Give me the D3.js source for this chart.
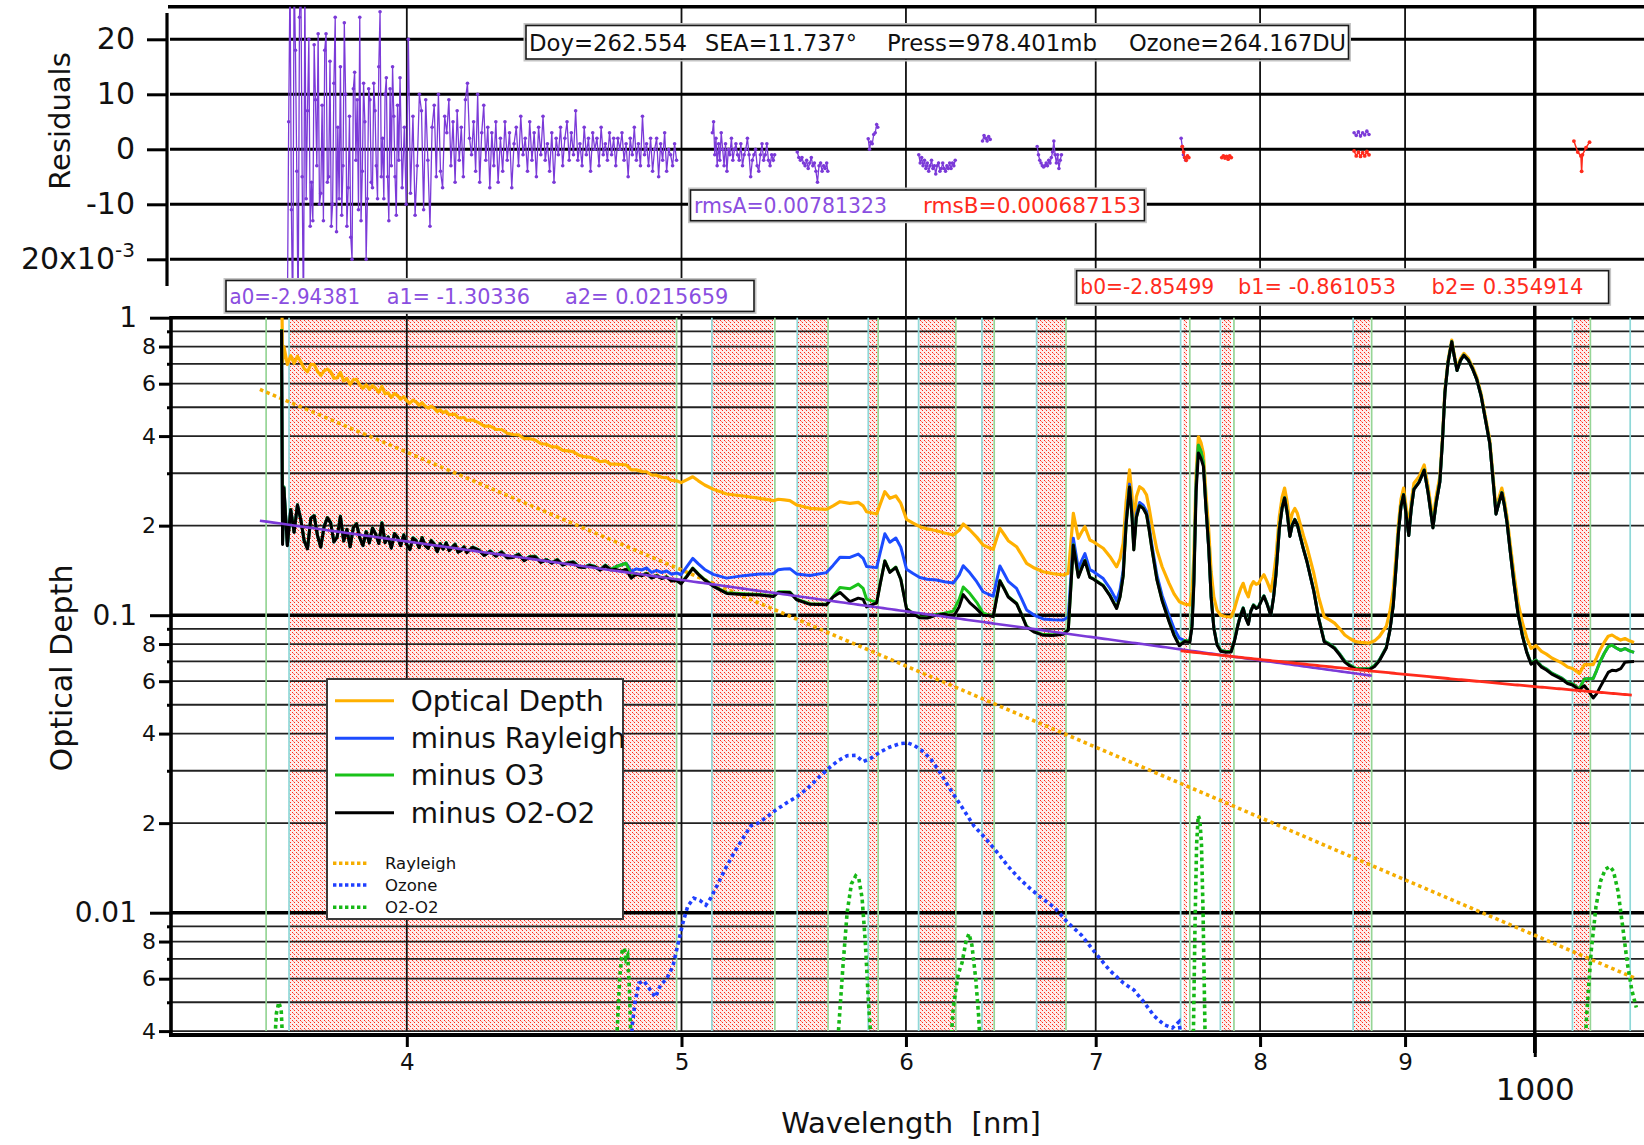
<!DOCTYPE html>
<html>
<head>
<meta charset="utf-8">
<script src="https://cdn.jsdelivr.net/npm/d3@7"></script>
<style>
  body { margin: 0; background: #fff; }
  svg { display: block; }
  text { font-family: "DejaVu Sans", "Noto Sans", sans-serif; }
</style>
</head>
<body>
<svg id="chart" width="1644" height="1145"></svg>
<script>
// ---------------- measurement metadata ----------------
const doy = "262.554", sea = "11.737", press = "978.401", ozoneDU = "264.167";
const rmsA = "0.00781323", rmsB = "0.000687153";
const coefA = [-2.94381, -1.30336, 0.0215659];   // purple fit, ln(tau) vs ln(lambda[um])
const coefB = [-2.85499, -0.861053, 0.354914];   // red fit
const coefAText = ["-2.94381", " -1.30336", " 0.0215659"];
const coefBText = ["-2.85499", " -0.861053", " 0.354914"];
const fitARange = [355, 876];
const fitBRange = [750, 1082];

// ---------------- axis ticks ----------------
const yMajorTicks = [1, 0.1, 0.01];
const yMajorLabels = ["1", "0.1", "0.01"];
const yLabeledTicks = [0.8, 0.6, 0.4, 0.2, 0.08, 0.06, 0.04, 0.02, 0.008, 0.006, 0.004];
const yLabeledText = ["8", "6", "4", "2", "8", "6", "4", "2", "8", "6", "4"];
const yMinorTicks = [0.9, 0.7, 0.5, 0.3, 0.09, 0.07, 0.05, 0.03, 0.009, 0.007, 0.005];
const xMinorTicks = [400, 500, 600, 700, 800, 900];
const xMinorLabels = ["4", "5", "6", "7", "8", "9"];
const xMajorTicks = [1000];
const xMajorLabels = ["1000"];
const residTicks = [20, 10, 0, -10, -20];
const residLabels = ["20", "10", "0", "-10", "20x10"];

// ---------------- filter channels ----------------
const channelStart = [363.5, 512.5, 549.3, 581.9, 606.2, 638.2, 667.2, 750.0, 774.6, 862.8, 1031.1, 1080.6];
const channelEnd = [356.8, 498.0, 539.4, 563.2, 586.6, 624.8, 644.6, 683.3, 755.6, 783.2, 875.9, 1046.2];
const fitWindows = [[363.6, 497.6], [512.6, 538.8], [549.4, 562.8], [582.0, 586.2], [606.3, 624.3],
  [638.3, 644.2], [667.3, 682.8], [751.4, 754.0], [775.4, 781.2], [863.4, 874.6], [1032.0, 1044.8]];

// ---------------- measured optical depth ----------------
const opticalDepth = [
  [361.3, 1.45], [361.6, 0.709], [362.0, 0.800], [363, 0.696], [364, 0.745], [365, 0.703], [366, 0.742],
  [367, 0.711], [368, 0.674], [369, 0.658], [370, 0.697], [371, 0.696], [372, 0.660], [373, 0.639],
  [374, 0.663], [375, 0.672], [376, 0.659], [377, 0.626], [378, 0.628], [379, 0.655], [380, 0.613],
  [381, 0.625], [382, 0.596], [383, 0.619], [384, 0.620], [385, 0.595], [386, 0.580], [387, 0.595],
  [388, 0.575], [389, 0.592], [390, 0.579], [391, 0.562], [392, 0.588], [393, 0.555], [394, 0.559],
  [395, 0.540], [396, 0.556], [397, 0.547], [398, 0.532], [399, 0.543], [400, 0.526], [401, 0.516],
  [402, 0.528], [403, 0.521], [404, 0.508], [405, 0.518], [406, 0.504], [407, 0.497], [408, 0.504],
  [409, 0.496], [410, 0.483], [411, 0.490], [412, 0.480], [413, 0.485], [414, 0.472], [415, 0.473],
  [416, 0.474], [417, 0.461], [418, 0.460], [419, 0.462], [420, 0.452], [422, 0.453], [424, 0.444],
  [426, 0.432], [428, 0.432], [430, 0.421], [432, 0.421], [434, 0.409], [436, 0.405], [438, 0.404],
  [440, 0.392], [442, 0.392], [444, 0.388], [446, 0.377], [448, 0.376], [450, 0.368], [452, 0.368],
  [454, 0.358], [456, 0.357], [458, 0.354], [460, 0.345], [462, 0.341], [464, 0.340], [466, 0.335],
  [468, 0.328], [470, 0.330], [472, 0.322], [474, 0.322], [476, 0.321], [478, 0.320], [480, 0.308],
  [482, 0.308], [484, 0.304], [486, 0.3035], [488, 0.296], [490, 0.2956], [492, 0.2908], [494, 0.290],
  [496, 0.284], [498, 0.283], [499.8, 0.279], [502.1, 0.285], [504.6, 0.292], [506.9, 0.283],
  [509.5, 0.274], [513.1, 0.265], [518.7, 0.2555], [525.7, 0.2516], [532.9, 0.2471], [538.7, 0.2426],
  [540.9, 0.2453], [543.5, 0.2440], [546.0, 0.2426], [549.0, 0.2347], [555.0, 0.2287], [562.5, 0.2269],
  [565.5, 0.2330], [568.7, 0.2407], [573.3, 0.2377], [577.2, 0.2395], [579.5, 0.2330], [581.1, 0.2228],
  [585.9, 0.2189], [587.5, 0.2350], [589.8, 0.2602], [592.2, 0.2471], [595.1, 0.2516], [597.5, 0.2380],
  [600.3, 0.2100], [603.5, 0.2040], [606.8, 0.1984], [610.5, 0.1950], [615.1, 0.1923], [619.0, 0.1890],
  [623.5, 0.1860], [626.5, 0.1930], [628.6, 0.2025], [632.0, 0.1934], [635.5, 0.1830], [638.8, 0.1722],
  [641.5, 0.1690], [644.1, 0.1665], [647.6, 0.1959], [650.0, 0.1860], [652.0, 0.1780], [656.4, 0.1699],
  [659.0, 0.1600], [661.8, 0.1494], [666.0, 0.1440], [670.8, 0.1400], [676.0, 0.1380], [681.8, 0.1365],
  [684.6, 0.1383], [687.4, 0.2201], [690.2, 0.1813], [692.0, 0.1900], [693.9, 0.1984], [696.7, 0.1790],
  [699.0, 0.1760], [701.4, 0.1722], [704.3, 0.1679], [708.2, 0.1573], [712.0, 0.1455], [714.0, 0.1550],
  [715.8, 0.1745], [717.5, 0.2400], [719.5, 0.3080], [721.0, 0.2500], [722.0, 0.2034], [723.5, 0.2500],
  [725.4, 0.2703], [727.5, 0.2650], [729.5, 0.2539], [731.0, 0.2300], [732.6, 0.2034], [735.7, 0.1657],
  [738.8, 0.1455], [743.0, 0.1280], [746.0, 0.1180], [749.2, 0.1110], [752.5, 0.1090], [755.6, 0.1082],
  [757.0, 0.1200], [758.1, 0.1573], [759.5, 0.3000], [760.9, 0.3980], [762.5, 0.3800], [764.0, 0.3501],
  [765.5, 0.2600], [767.3, 0.1934], [768.8, 0.1400], [770.5, 0.1153], [772.5, 0.1040], [774.8, 0.1000],
  [778.0, 0.0990], [781.4, 0.0987], [783.5, 0.1050], [785.7, 0.1153], [787.5, 0.1230], [789.1, 0.1280],
  [790.8, 0.1200], [792.4, 0.1153], [794.0, 0.1250], [795.7, 0.1297], [797.5, 0.1270], [799.1, 0.1280],
  [800.8, 0.1330], [802.5, 0.1368], [804.5, 0.1300], [807.0, 0.1204], [808.8, 0.1350], [810.4, 0.1573],
  [812.6, 0.2144], [814.5, 0.2500], [816.1, 0.2676], [817.8, 0.2400], [819.6, 0.2034], [821.2, 0.2200],
  [822.9, 0.2286], [824.6, 0.2200], [826.4, 0.2034], [828.7, 0.1850], [831.0, 0.1699], [835.7, 0.1381],
  [839.0, 0.1150], [842.8, 0.0987], [846.5, 0.0965], [849.9, 0.0941], [853.5, 0.0900], [857.0, 0.0858],
  [860.5, 0.0835], [864.3, 0.0816], [868.0, 0.0810], [874.1, 0.0806], [878.0, 0.0820], [881.4, 0.0848],
  [886.4, 0.0918], [889.0, 0.1030], [891.4, 0.1215], [893.5, 0.1600], [895.2, 0.2034], [897.0, 0.2450],
  [898.9, 0.2676], [900.8, 0.2300], [902.7, 0.1984], [904.5, 0.2400], [906.5, 0.2779], [910.3, 0.2924],
  [914.1, 0.3198], [917.0, 0.2700], [920.6, 0.2088], [923.0, 0.2500], [925.8, 0.2924], [927.8, 0.4000],
  [929.6, 0.5710], [932.0, 0.7200], [934.8, 0.8415], [936.5, 0.7600], [938.8, 0.6757], [941.5, 0.7300],
  [944.0, 0.7590], [947.5, 0.7300], [950.7, 0.6843], [954.0, 0.6300], [957.3, 0.5567], [960.5, 0.4700],
  [964.1, 0.3882], [966.5, 0.3000], [969.0, 0.2286], [971.5, 0.2500], [973.6, 0.2676], [975.5, 0.2450],
  [977.7, 0.2144], [980.5, 0.1700], [983.2, 0.1381], [986.5, 0.1100], [990.1, 0.0941], [993.5, 0.0840],
  [997.0, 0.0774], [1001.0, 0.0790], [1005.5, 0.0756], [1009.5, 0.0740], [1013.9, 0.0718], [1018.0, 0.0705],
  [1022.5, 0.0690], [1027.0, 0.0670], [1031.1, 0.0662], [1034.0, 0.0650], [1036.9, 0.0637], [1039.0, 0.0660],
  [1041.2, 0.0682], [1045.0, 0.0682], [1048.6, 0.0682], [1051.5, 0.0720], [1054.4, 0.0764], [1058.0, 0.0810],
  [1061.5, 0.0850], [1064.8, 0.0858], [1068.5, 0.0840], [1072.3, 0.0825], [1076.0, 0.0835], [1080.0, 0.0820],
  [1084.0, 0.0810]
];

// ---------------- model optical depths ----------------
const rayleigh = [[355, 0.574], [400, 0.353], [450, 0.218], [500, 0.142], [550, 0.0963], [600, 0.0675],
  [650, 0.0487], [700, 0.0360], [750, 0.0272], [800, 0.0209], [850, 0.0163], [900, 0.0129],
  [950, 0.01035], [1000, 0.0084], [1050, 0.00688], [1085, 0.00602]];

const ozone = [[479.6, 0.0032], [480.4, 0.0042], [481.5, 0.0050], [483, 0.0058], [485, 0.0059], [487.5, 0.0055],
  [489.5, 0.0052], [491.5, 0.0057], [494, 0.0060], [496.5, 0.0066], [498.5, 0.0078], [500.5, 0.0092],
  [502.5, 0.0105], [505, 0.0112], [507.5, 0.0110], [510, 0.0106], [512, 0.0112], [515, 0.0125],
  [518, 0.0140], [522, 0.0160], [526, 0.0180], [529, 0.0196], [532, 0.0200], [536, 0.0210],
  [540, 0.0222], [545, 0.0235], [549, 0.0245], [554, 0.0262], [559, 0.0285], [564, 0.0308],
  [568, 0.0325], [572, 0.0337], [576, 0.0338], [579.5, 0.0322], [583, 0.0330], [587, 0.0345],
  [592, 0.0360], [597, 0.0370], [601, 0.0372], [604, 0.0365], [608, 0.0350], [612, 0.0330],
  [617, 0.0295], [622, 0.0260], [628, 0.0226], [634, 0.0196], [640, 0.0178], [646, 0.0160],
  [652, 0.0143], [658, 0.0130], [664, 0.0120], [670, 0.0112], [677, 0.0104], [684, 0.0093],
  [692, 0.0084], [700, 0.0073], [708, 0.0064], [716, 0.0058], [722, 0.0055], [728, 0.0050],
  [734, 0.0045], [740, 0.0042], [745, 0.0041], [749, 0.0043], [750.8, 0.0036]];

const o2o2 = [[355, 0.0005], [357.5, 0.0005], [359.0, 0.0032], [359.8, 0.0046], [360.5, 0.0050],
  [361.2, 0.0047], [361.8, 0.0033], [363, 0.0005],
  [472, 0.0005], [474.2, 0.0035], [475.5, 0.0060], [476.5, 0.0075], [477.3, 0.0076], [477.9, 0.0070],
  [478.6, 0.0072], [479.3, 0.0055], [480.2, 0.0030], [482, 0.0005],
  [566, 0.0005], [568, 0.0040], [570, 0.0065], [572, 0.0100], [574, 0.0125], [576, 0.0133],
  [577.5, 0.0130], [579, 0.0112], [580.5, 0.0080], [582, 0.0050], [583.5, 0.0035], [585.5, 0.0005],
  [619, 0.0005], [621.5, 0.0030], [623.5, 0.0048], [626, 0.0062], [628, 0.0068], [630, 0.0080],
  [631.5, 0.0085], [633, 0.0078], [635, 0.0060], [636.5, 0.0045], [638.5, 0.0025], [641, 0.0005],
  [755, 0.0005], [757.5, 0.0030], [758.8, 0.0090], [759.8, 0.0170], [760.8, 0.0212], [761.8, 0.0205],
  [762.8, 0.0170], [763.8, 0.0100], [765, 0.0040], [766.5, 0.0005],
  [1036, 0.0005], [1040, 0.0025], [1043, 0.0045], [1047, 0.0075], [1051, 0.0105], [1055, 0.0128],
  [1059, 0.0140], [1063, 0.0143], [1066, 0.0138], [1070, 0.0118], [1074, 0.0090], [1078, 0.0068],
  [1082, 0.0055], [1086, 0.0048]];

// ---------------- fit residuals (x 1e-3) ----------------
const residA = [
  [363.0, -32], [363.4, 5], [363.8, 32], [364.2, -11], [364.6, -32], [365.0, 32], [365.4, 18], [365.8, -4],
  [366.2, -32], [366.6, 24], [367.0, 32], [367.4, -5], [367.8, -32], [368.2, 30], [368.6, -9], [369.0, 7],
  [369.4, 20], [369.8, -14], [370.2, -6], [370.6, -13], [371.0, 19], [371.4, 9], [371.8, -3], [372.2, 21],
  [372.6, -10], [373.0, -8], [373.4, 8], [373.8, -13], [374.2, 18], [374.6, 21], [375.0, -6], [375.4, -5],
  [375.8, 16], [376.2, -14], [376.6, -10], [377.0, 12], [377.4, 24], [377.8, -15], [378.2, 4], [378.6, -9],
  [379.0, 15], [379.4, -12], [379.8, -3], [380.2, 23], [380.6, 10], [381.0, -14], [381.4, -7], [381.8, 6],
  [382.2, -16], [382.6, -20], [383.0, 11], [383.4, 14], [383.8, -2], [384.2, 9], [384.6, -11], [385.0, 24],
  [385.4, -13], [385.8, -4], [386.2, 12], [386.6, 5], [387.0, -20], [387.4, -9], [387.8, 11], [388.2, 9],
  [388.6, -6], [389.0, -7], [389.4, 12], [389.8, 7], [390.2, -3], [390.6, -9], [391.0, 15], [391.4, 25],
  [391.8, -5], [392.2, 2], [392.6, -9], [393.0, 10], [393.4, 13], [393.8, -5], [394.2, -13], [394.6, 11],
  [395.0, -3], [395.4, 15], [395.8, 6], [396.2, -5], [396.6, -12], [397.0, 8], [397.4, -2], [397.8, 13],
  [398.5, -7], [399.2, 4], [399.8, -10], [400.5, 20], [401.2, -8], [402.0, 6], [402.7, -12], [403.4, -3],
  [404.1, 10], [404.8, 7], [405.5, -11], [406.2, 9], [406.9, -2], [407.6, -14], [408.3, 4], [409.0, 8],
  [409.7, -5], [410.4, 10], [411.1, -4], [411.8, -7], [412.5, 6], [413.2, 3], [413.9, 9], [414.6, -3],
  [415.3, 5], [416.0, -6], [416.7, 7], [417.4, -2], [418.1, 4], [418.8, -5], [419.5, 9], [420.2, 12],
  [420.9, 2], [421.6, -1], [422.3, 5], [423.0, -4], [423.7, 10], [424.4, -6], [425.1, 3], [425.8, 8],
  [426.5, -2], [427.2, 4], [427.9, -7], [428.6, 3], [429.3, -3], [430.0, 5], [430.8, -6], [431.6, 2],
  [432.4, -4], [433.2, 5], [434.0, -2], [434.8, 3], [435.6, -7], [436.4, 1], [437.2, 4], [438.0, -3],
  [438.8, 6], [439.6, -1], [440.4, 2], [441.2, -4], [442.0, 5], [442.8, -2], [443.6, 3], [444.4, -5],
  [445.2, 4], [446.0, -1], [446.8, 6], [447.6, -2], [448.4, 1], [449.2, -4], [450.0, 3], [450.8, -6],
  [451.6, 2], [452.4, -1], [453.2, 4], [454.0, -3], [454.8, 2], [455.6, 5], [456.4, -2], [457.2, 3],
  [458.0, -1], [458.8, 7], [459.6, -2], [460.4, 1], [461.2, -3], [462.0, 4], [462.8, -1], [463.6, 2],
  [464.4, -4], [465.2, 3], [466.0, 0], [466.8, 2], [467.6, -3], [468.4, 4], [469.2, -1], [470.0, 1],
  [470.8, -2], [471.6, 3], [472.4, -1], [473.2, 2], [474.0, -3], [474.8, 2], [475.6, 0], [476.4, 3],
  [477.2, -2], [478.0, 1], [478.8, -5], [479.6, 2], [480.4, -1], [481.2, 4], [482.0, -2], [482.8, 1],
  [483.6, -3], [484.4, 6], [485.2, -1], [486.0, 1], [486.8, -3], [487.6, 2], [488.4, -4], [489.2, 0],
  [490.0, 2], [490.8, -5], [491.6, 1], [492.4, -2], [493.2, 3], [494.0, -4], [494.8, 0], [495.6, -1],
  [496.4, -3], [497.2, 1], [498.0, -2]
];
const residB = [[512.7, 3], [513.2, 5], [513.7, -1], [514.2, 2], [514.7, -3], [515.3, 1], [515.8, -2],
  [516.4, 3], [517.0, 0], [517.6, -3], [518.2, 1], [518.8, -4], [519.4, 0], [520.0, -1], [520.7, 2],
  [521.3, -2], [522.0, 0], [522.6, 1], [523.3, -1], [524.0, -2], [524.7, 1], [525.4, -3], [526.1, -1],
  [526.8, 0], [527.5, 2], [528.2, -1], [528.9, -5], [529.6, -2], [530.3, -1], [531.0, 0], [531.7, -3],
  [532.4, -4], [533.1, -1], [533.8, 1], [534.5, -2], [535.2, -1], [535.9, 1], [536.6, -2], [537.3, -3],
  [538.0, -1], [538.7, -2], [539.3, -1]];
const residC = [[549.3, -0.5], [550.0, -1.5], [550.7, -2], [551.4, -1.5], [552.1, -2.5], [552.8, -3],
  [553.5, -2], [554.2, -3.5], [554.9, -2.5], [555.6, -1.5], [556.3, -3], [557.0, -2.5], [557.7, -4],
  [558.4, -6], [559.1, -3], [559.8, -2.5], [560.5, -4], [561.2, -3], [561.9, -3.5], [562.6, -2.5], [563.1, -4]];
const residD = [[581.9, 1.9], [582.5, 0], [583.1, 1.3], [583.8, 1], [584.5, 2.7], [585.2, 3], [585.9, 4.5], [586.4, 4]];
const residE = [[606.3, -1], [607.0, -2.5], [607.7, -1.5], [608.4, -3], [609.1, -2], [609.8, -3.5], [610.5, -2.5],
  [611.2, -4], [611.9, -3], [612.6, -2], [613.3, -3.5], [614.0, -3], [614.7, -4.5], [615.4, -3], [616.1, -2.5],
  [616.8, -4], [617.5, -3.5], [618.2, -2.5], [618.9, -3.5], [619.6, -4], [620.3, -3], [621.0, -3.5],
  [621.7, -2.5], [622.4, -3.5], [623.1, -2.5], [623.8, -3], [624.5, -2]];
const residF = [[638.5, 1.5], [639.3, 2.5], [640.1, 2], [640.9, 1.5], [641.7, 2.3], [642.5, 1.8]];
const residG = [[667.5, 0.5], [668.2, -1], [668.9, -2], [669.6, -2.5], [670.3, -3], [671.0, -3.2], [671.7, -3],
  [672.4, -2.5], [673.1, -3], [673.8, -2], [674.5, -2.5], [675.2, -1.5], [675.9, -0.5], [676.6, 1.5],
  [677.3, -1], [678.0, -2.5], [678.7, -1], [679.4, -3.5], [680.1, -2], [680.8, -1]];
const residH = [[750.3, 2], [751.0, 0.5], [751.7, -1], [752.4, -1.5], [753.1, -2]];
const residJ = [[863.5, 3], [865, 2.5], [866.5, 3.2], [868, 2.4], [869.5, 3.0], [871, 2.6], [872.5, 3.3], [874, 2.7]];
const residRedH = [[751.0, 0.5], [751.8, -0.5], [752.6, -1.5], [753.4, -2.0], [754.2, -1.2], [755.0, -1.5]];
const residRedI = [[775.5, -1.5], [776.5, -1.2], [777.5, -1.6], [778.5, -1.3], [779.5, -1.8], [780.5, -1.2], [781.5, -1.5]];
const residRedJ = [[863.5, -0.3], [865, -1.2], [866.5, -0.5], [868, -1.3], [869.5, -0.6], [871, -1.2], [872.5, -0.4], [874, -1.0]];
const residRedK = [[1032.3, 1.5], [1035.5, -0.5], [1038.2, -1.2], [1038.8, -4.0], [1039.5, -1.0], [1042.5, 0.3], [1045.5, 1.3]];
const residPurple = [residA, residB, residC, residD, residE, residF, residG, residH, residJ];
const residRed = [residRedH, residRedI, residRedJ, residRedK];

// ---------------- legend ----------------
const legendMain = ["Optical Depth", "minus Rayleigh", "minus O3", "minus O2-O2"];
const legendModels = ["Rayleigh", "Ozone", "O2-O2"];

// =============== drawing ===============
const W = 1644;
const COL = {
  od: "#ffb000", ray: "#1c4cff", o3: "#1ac21a", o2: "#000000",
  purple: "#7b3ad8", red: "#ff2b1c", purpleText: "#8a4ee0",
  dotRay: "#f5ad00", dotO3: "#1f3fff", dotO2: "#16b816",
  chanStart: "#8fd8d8", chanEnd: "#96d596"
};

const x = d3.scaleLog().domain([330, 1100]).range([170, 1652.1]);
const y = d3.scaleLog().domain([0.004, 1]).range([1031.1, 317.7]);
const yr = d3.scaleLinear().domain([-25.1, 25.9]).range([287.35, 6.85]);

const svg = d3.select("#chart");
const defs = svg.append("defs");
defs.append("clipPath").attr("id", "clipMain").append("rect")
  .attr("x", 171).attr("y", y(1)).attr("width", W - 171).attr("height", y(0.004) - y(1));
defs.append("clipPath").attr("id", "clipRes").append("rect")
  .attr("x", 168).attr("y", yr(25.9)).attr("width", W - 168).attr("height", yr(-25.1) - yr(25.9));
// stipple used for the fitting windows: pale pink ground with crisp red pixels
const pat = defs.append("pattern").attr("id", "stipple").attr("patternUnits", "userSpaceOnUse")
  .attr("width", 4).attr("height", 4);
pat.append("rect").attr("x", 0).attr("y", 0).attr("width", 4).attr("height", 4).attr("fill", "#fdeceb");
pat.append("rect").attr("x", 0).attr("y", 0).attr("width", 1).attr("height", 1)
  .attr("fill", "#ff2a1a").attr("shape-rendering", "crispEdges");
pat.append("rect").attr("x", 2).attr("y", 2).attr("width", 1).attr("height", 1)
  .attr("fill", "#ff2a1a").attr("shape-rendering", "crispEdges");
pat.append("rect").attr("x", 1).attr("y", 1).attr("width", 1).attr("height", 1)
  .attr("fill", "#ff8a80").attr("shape-rendering", "crispEdges");

// log-log interpolation of a model table
function interp(table, w) {
  if (w < table[0][0] || w > table[table.length - 1][0]) return 0;
  const i = d3.bisector(d => d[0]).left(table, w);
  if (i === 0) return table[0][1];
  const [x0, y0] = table[i - 1], [x1, y1] = table[i];
  const t = Math.log(w / x0) / Math.log(x1 / x0);
  return Math.exp(Math.log(y0) + t * Math.log(y1 / y0));
}
const minusRayleigh = opticalDepth.map(([w, v]) => [w, v - interp(rayleigh, w)]);
const minusO3 = minusRayleigh.map(([w, v]) => [w, v - interp(ozone, w)]);
const minusO2O2 = minusO3.map(([w, v]) => [w, v - interp(o2o2, w)]);

function fitCurve(c, range) {
  const pts = d3.range(range[0], range[1], 2).concat([range[1]]);
  return pts.map(w => {
    const l = Math.log(w / 1000);
    return [w, Math.exp(c[0] + c[1] * l + c[2] * l * l)];
  });
}

const line = d3.line().x(d => x(d[0])).y(d => y(Math.max(d[1], 1e-5)));
const rline = d3.line().x(d => x(d[0])).y(d => yr(d[1]));

// ---- main panel: shaded fitting windows ----
const main = svg.append("g");
main.append("g").selectAll("rect").data(fitWindows).join("rect")
  .attr("x", d => Math.round(x(d[0]))).attr("width", d => Math.round(x(d[1]) - x(d[0])))
  .attr("y", Math.round(y(1))).attr("height", Math.round(y(0.004) - y(1)))
  .attr("fill", "url(#stipple)");

// ---- gridlines ----
const grid = svg.append("g");
grid.selectAll("line.hmin").data(yMinorTicks.concat(yLabeledTicks)).join("line")
  .attr("x1", 171).attr("x2", W).attr("y1", d => y(d)).attr("y2", d => y(d))
  .attr("stroke", "#222").attr("stroke-width", 1.8);
grid.selectAll("line.hmaj").data(yMajorTicks).join("line")
  .attr("x1", 171).attr("x2", W).attr("y1", d => y(d)).attr("y2", d => y(d))
  .attr("stroke", "#000").attr("stroke-width", 3.5);
grid.selectAll("line.vmin").data(xMinorTicks).join("line")
  .attr("x1", d => x(d)).attr("x2", d => x(d)).attr("y1", yr(25.9)).attr("y2", y(0.004))
  .attr("stroke", "#111").attr("stroke-width", 1.8);
grid.selectAll("line.vmaj").data(xMajorTicks).join("line")
  .attr("x1", d => x(d)).attr("x2", d => x(d)).attr("y1", yr(25.9)).attr("y2", y(0.004) + 22)
  .attr("stroke", "#000").attr("stroke-width", 3.5);
// residual horizontal gridlines + top border
grid.selectAll("line.rh").data(residTicks).join("line")
  .attr("x1", 170).attr("x2", W).attr("y1", d => yr(d)).attr("y2", d => yr(d))
  .attr("stroke", "#000").attr("stroke-width", 3);
grid.append("line").attr("x1", 168).attr("x2", W).attr("y1", yr(25.9)).attr("y2", yr(25.9))
  .attr("stroke", "#000").attr("stroke-width", 3.5);

// ---- channel edges ----
const chan = svg.append("g");
chan.selectAll("line.s").data(channelStart).join("line")
  .attr("x1", d => x(d)).attr("x2", d => x(d)).attr("y1", y(1)).attr("y2", y(0.004))
  .attr("stroke", COL.chanStart).attr("stroke-width", 1.7);
chan.selectAll("line.e").data(channelEnd).join("line")
  .attr("x1", d => x(d)).attr("x2", d => x(d)).attr("y1", y(1)).attr("y2", y(0.004))
  .attr("stroke", COL.chanEnd).attr("stroke-width", 1.7);

// ---- model curves (dotted) and spectra ----
const plot = svg.append("g").attr("clip-path", "url(#clipMain)");
const dotted = (data, color) => plot.append("path").datum(data).attr("d", line)
  .attr("fill", "none").attr("stroke", color).attr("stroke-width", 3.6)
  .attr("stroke-dasharray", "3.6 3.4");
dotted(rayleigh, COL.dotRay);
dotted(ozone, COL.dotO3);
dotted(o2o2, COL.dotO2);

const solid = (data, color, w) => plot.append("path").datum(data).attr("d", line)
  .attr("fill", "none").attr("stroke", color).attr("stroke-width", w)
  .attr("stroke-linejoin", "round");
solid(opticalDepth, COL.od, 3.2);
solid(minusRayleigh, COL.ray, 3);
solid(minusO3, COL.o3, 3);
solid(minusO2O2, COL.o2, 3);
solid(fitCurve(coefA, fitARange), COL.purple, 2.6);
solid(fitCurve(coefB, fitBRange), COL.red, 2.8);

// ---- main axes ----
const axL = svg.append("g").attr("transform", "translate(171,0)");
const styleAxis = (g, fs) => {
  g.select(".domain").remove();
  g.selectAll(".tick line").attr("stroke", "#000").attr("stroke-width", 3);
  g.selectAll(".tick text").attr("fill", "#111").style("font-size", fs + "px");
};
axL.append("g").call(d3.axisLeft(y).tickValues(yMajorTicks).tickFormat((d, i) => yMajorLabels[i])
  .tickSize(21).tickPadding(13)).call(g => styleAxis(g, 28));
axL.append("g").call(d3.axisLeft(y).tickValues(yLabeledTicks).tickFormat((d, i) => yLabeledText[i])
  .tickSize(12).tickPadding(3)).call(g => styleAxis(g, 22));
axL.append("g").call(d3.axisLeft(y).tickValues(yMinorTicks).tickFormat("").tickSize(4))
  .call(g => styleAxis(g, 10));
svg.append("line").attr("x1", 171).attr("x2", 171).attr("y1", 316).attr("y2", 1037)
  .attr("stroke", "#000").attr("stroke-width", 3.6);

const axB = svg.append("g").attr("transform", "translate(0,1035)");
axB.append("g").call(d3.axisBottom(x).tickValues(xMinorTicks).tickFormat((d, i) => xMinorLabels[i])
  .tickSize(12).tickPadding(7)).call(g => styleAxis(g, 23));
axB.append("g").call(d3.axisBottom(x).tickValues(xMajorTicks).tickFormat((d, i) => xMajorLabels[i])
  .tickSize(22).tickPadding(21)).call(g => styleAxis(g, 31));
axB.append("line").attr("x1", 169).attr("x2", W).attr("y1", 0).attr("y2", 0)
  .attr("stroke", "#000").attr("stroke-width", 4);

// ---- residual panel ----
const res = svg.append("g").attr("clip-path", "url(#clipRes)");
residPurple.forEach(seg => {
  res.append("path").datum(seg).attr("d", rline).attr("fill", "none")
    .attr("stroke", COL.purple).attr("stroke-width", 1.3);
  res.append("g").selectAll("circle").data(seg).join("circle")
    .attr("cx", d => x(d[0])).attr("cy", d => yr(d[1])).attr("r", 1.8).attr("fill", COL.purple);
});
residRed.forEach(seg => {
  res.append("path").datum(seg).attr("d", rline).attr("fill", "none")
    .attr("stroke", COL.red).attr("stroke-width", 1.5);
  res.append("g").selectAll("circle").data(seg).join("circle")
    .attr("cx", d => x(d[0])).attr("cy", d => yr(d[1])).attr("r", 1.9).attr("fill", COL.red);
});
const axR = svg.append("g").attr("transform", "translate(167,0)");
axR.call(d3.axisLeft(yr).tickValues(residTicks).tickFormat((d, i) => residLabels[i])
  .tickSize(20).tickPadding(12)).call(g => styleAxis(g, 30));
axR.selectAll(".tick text").filter(d => d === -20)
  .append("tspan").attr("dy", "-0.6em").style("font-size", "20px").text("-3");
svg.append("line").attr("x1", 167).attr("x2", 167).attr("y1", 13).attr("y2", 286)
  .attr("stroke", "#000").attr("stroke-width", 3.2);

// ---- axis titles ----
svg.append("text").attr("transform", "translate(70,121) rotate(-90)").attr("text-anchor", "middle")
  .style("font-size", "29px").attr("fill", "#111").text("Residuals");
svg.append("text").attr("transform", "translate(72,668) rotate(-90)").attr("text-anchor", "middle")
  .style("font-size", "30px").attr("fill", "#111").text("Optical Depth");
svg.append("text").attr("x", 911).attr("y", 1133).attr("text-anchor", "middle")
  .style("font-size", "29px").style("white-space", "pre").attr("fill", "#111").text("Wavelength  [nm]");

// ---- annotation boxes ----
function box(x0, y0, x1, y1) {
  const g = svg.append("g");
  g.append("rect").attr("x", x0 - 1.5).attr("y", y0 - 1.5).attr("width", x1 - x0 + 3).attr("height", y1 - y0 + 3)
    .attr("fill", "none").attr("stroke", "#c4c4c4").attr("stroke-width", 2);
  g.append("rect").attr("x", x0).attr("y", y0).attr("width", x1 - x0).attr("height", y1 - y0)
    .attr("fill", "#fff").attr("stroke", "#1a1a1a").attr("stroke-width", 1.6);
  return g;
}
function seg(g, txt, x0, x1, base, fs, color) {
  g.append("text").attr("x", x0).attr("y", base).style("font-size", fs + "px").attr("fill", color)
    .attr("textLength", x1 - x0).attr("lengthAdjust", "spacingAndGlyphs").style("white-space", "pre").text(txt);
}
const bDoy = box(526, 25.5, 1348.5, 59);
seg(bDoy, "Doy=" + doy, 529, 687, 50.5, 23, "#111");
seg(bDoy, "SEA=" + sea + "°", 705, 857, 50.5, 23, "#111");
seg(bDoy, "Press=" + press + "mb", 887, 1097, 50.5, 23, "#111");
seg(bDoy, "Ozone=" + ozoneDU + "DU", 1129, 1346, 50.5, 23, "#111");

const bRms = box(690.5, 190, 1144.4, 220.7);
seg(bRms, "rmsA=" + rmsA, 694, 887, 213, 21, COL.purpleText);
seg(bRms, "rmsB=" + rmsB, 923, 1141, 213, 21, COL.red);

const bA = box(226, 280.5, 754, 311.4);
seg(bA, "a0=" + coefAText[0], 229.6, 360, 304, 21, COL.purpleText);
seg(bA, "a1=" + coefAText[1], 386.7, 530, 304, 21, COL.purpleText);
seg(bA, "a2=" + coefAText[2], 565, 728.3, 304, 21, COL.purpleText);

const bB = box(1076.6, 270.7, 1608.6, 303.3);
seg(bB, "b0=" + coefBText[0], 1080.3, 1214.2, 294, 21, COL.red);
seg(bB, "b1=" + coefBText[1], 1238, 1396, 294, 21, COL.red);
seg(bB, "b2=" + coefBText[2], 1431.6, 1583.4, 294, 21, COL.red);

// ---- legend ----
const lg = svg.append("g");
lg.append("rect").attr("x", 327).attr("y", 679).attr("width", 296).attr("height", 240)
  .attr("fill", "#fff").attr("stroke", "#3a3a3a").attr("stroke-width", 2);
const mainColors = [COL.od, COL.ray, COL.o3, COL.o2];
const mainY = [700.7, 738.3, 775, 812.7];
legendMain.forEach((t, i) => {
  lg.append("line").attr("x1", 335).attr("x2", 394).attr("y1", mainY[i]).attr("y2", mainY[i])
    .attr("stroke", mainColors[i]).attr("stroke-width", 3);
  lg.append("text").attr("x", 410.7).attr("y", mainY[i] + 10).style("font-size", "28px")
    .attr("fill", "#111").text(t);
});
const modelColors = [COL.dotRay, COL.dotO3, COL.dotO2];
const modelY = [863.3, 885, 907.3];
legendModels.forEach((t, i) => {
  lg.append("line").attr("x1", 333).attr("x2", 368).attr("y1", modelY[i]).attr("y2", modelY[i])
    .attr("stroke", modelColors[i]).attr("stroke-width", 3.4).attr("stroke-dasharray", "3.4 2.6");
  lg.append("text").attr("x", 385).attr("y", modelY[i] + 6).style("font-size", "16.5px")
    .attr("fill", "#111").text(t);
});
</script>
</body>
</html>
